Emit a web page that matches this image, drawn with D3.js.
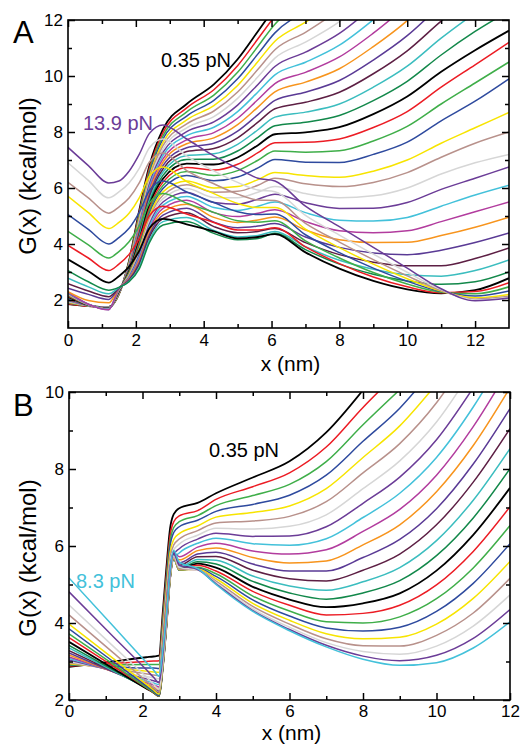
<!DOCTYPE html>
<html><head><meta charset="utf-8">
<script src="https://cdn.jsdelivr.net/npm/d3@7"></script>
<style>
body{margin:0;background:#fff}
svg{display:block}
text{font-family:"Liberation Sans",Arial,Helvetica,sans-serif}
</style>
</head><body>
<svg id="chart" width="521" height="746"></svg>
<script>
// Grace-style colour cycle (set 0 = lowest force)
const lineColors = ["#000000","#ec1c24","#3fae49","#2e4a9e","#f7e400","#b8918b","#d6d6d6","#6b3c97",
                    "#43c1da","#b23c9e","#f7941d","#5a3a95","#5d1f44","#3bbdbf","#12884a"];

// ---------- Panel A ----------
const forceLabelsA = ["0.35 pN", "13.9 pN"];
const xTicksA = [0, 2, 4, 6, 8, 10, 12];
const yTicksA = [2, 4, 6, 8, 10, 12];
const xGridA = [0, 0.6, 1.2, 1.5, 1.8, 2.1, 2.4, 2.8, 3.5, 4.3, 5.0, 5.6, 6.1, 7, 8, 9, 10, 11, 12, 13];
const curvesA = [
 [1.85,1.78,1.75,2.2,3.4,5.2,6.8,8.1,9.0,9.7,10.6,11.6,12.45],
 [1.87,1.78,1.75,2.21,3.37,5.13,6.71,7.98,8.86,9.51,10.37,11.33,12.15],
 [1.89,1.79,1.74,2.22,3.35,5.06,6.61,7.86,8.72,9.32,10.13,11.06,11.85,12.64],
 [1.9,1.79,1.74,2.23,3.32,4.98,6.52,7.75,8.57,9.13,9.9,10.79,11.54,12.28],
 [1.92,1.79,1.73,2.23,3.3,4.91,6.42,7.63,8.43,8.94,9.66,10.52,11.24,11.92,12.77],
 [1.94,1.8,1.73,2.24,3.27,4.84,6.33,7.51,8.29,8.75,9.43,10.24,10.94,11.56,12.36],
 [1.96,1.8,1.73,2.25,3.24,4.77,6.23,7.39,8.15,8.55,9.2,9.97,10.64,11.21,11.94,12.97],
 [1.98,1.8,1.72,2.26,3.22,4.7,6.14,7.27,8.01,8.36,8.96,9.7,10.34,10.85,11.52,12.49],
 [1.99,1.8,1.72,2.27,3.19,4.62,6.04,7.16,7.87,8.17,8.73,9.43,10.04,10.49,11.1,12.01,13.06],
 [2.01,1.81,1.71,2.28,3.17,4.55,5.95,7.04,7.72,7.98,8.49,9.16,9.73,10.13,10.68,11.53,12.52],
 [2.03,1.81,1.71,2.29,3.14,4.48,5.85,6.92,7.58,7.79,8.26,8.89,9.43,9.78,10.26,11.05,11.98,13.16],
 [2.05,1.81,1.71,2.29,3.11,4.41,5.76,6.8,7.44,7.6,8.03,8.62,9.13,9.42,9.84,10.57,11.44,12.56],
 [2.07,1.82,1.7,2.3,3.09,4.34,5.66,6.68,7.3,7.41,7.79,8.35,8.83,9.06,9.42,10.08,10.9,11.96,12.92],
 [2.08,1.82,1.7,2.31,3.06,4.26,5.57,6.57,7.16,7.22,7.56,8.08,8.53,8.71,9.0,9.6,10.35,11.35,12.25],
 [2.1,1.82,1.69,2.32,3.04,4.19,5.47,6.45,7.02,7.03,7.32,7.81,8.22,8.35,8.59,9.12,9.81,10.75,11.59,12.32],
 [2.12,1.83,1.69,2.33,3.01,4.12,5.38,6.33,6.87,6.84,7.09,7.53,7.92,7.99,8.17,8.64,9.27,10.15,10.92,11.62],
 [2.14,1.83,1.69,2.34,2.98,4.05,5.28,6.21,6.73,6.64,6.85,7.26,7.62,7.63,7.75,8.16,8.73,9.6,10.4,11.2],
 [2.16,1.83,1.68,2.35,2.96,3.98,5.19,6.09,6.59,6.45,6.62,6.99,7.32,7.28,7.33,7.68,8.2,9.0,9.75,10.5],
 [2.17,1.83,1.68,2.35,2.93,3.9,5.09,5.98,6.45,6.26,6.39,6.72,7.02,6.92,6.91,7.2,7.64,8.4,9.1,9.9],
 [2.19,1.84,1.67,2.36,2.91,3.83,5.0,5.86,6.25,6.0,6.05,6.3,6.55,6.45,6.38,6.6,7.0,7.6,8.15,8.7],
 [2.21,1.84,1.67,2.37,2.88,3.76,4.9,5.74,6.12,5.85,5.88,6.1,6.35,6.15,6.05,6.2,6.55,7.1,7.6,8.0],
 [2.23,1.84,1.67,2.38,2.85,3.69,4.81,5.62,5.98,5.66,5.65,5.85,6.05,5.8,5.65,5.72,6.0,6.5,6.9,7.2],
 [2.25,1.85,1.66,2.39,2.83,3.62,4.71,5.5,5.84,5.48,5.42,5.6,5.78,5.47,5.27,5.28,5.48,5.95,6.35,6.75],
 [2.26,1.85,1.66,2.4,2.8,3.54,4.62,5.39,5.7,5.3,5.2,5.35,5.5,5.12,4.85,4.82,4.95,5.35,5.75,6.1],
 [2.28,1.85,1.65,2.41,2.78,3.47,4.52,5.27,5.56,5.12,4.98,5.1,5.22,4.8,4.47,4.4,4.47,4.8,5.15,5.5],
 [2.3,1.98,1.9,2.42,2.75,3.4,4.43,5.15,5.42,4.95,4.77,4.86,4.96,4.5,4.15,4.05,4.06,4.3,4.6,4.96],
 [2.42,2.2,2.02,2.42,2.72,3.33,4.33,5.03,5.28,4.78,4.58,4.64,4.73,4.25,3.88,3.68,3.62,3.78,4.05,4.39],
 [2.58,2.32,2.12,2.43,2.7,3.26,4.24,4.91,5.12,4.62,4.4,4.45,4.55,4.05,3.62,3.35,3.22,3.22,3.48,3.86],
 [2.78,2.47,2.22,2.44,2.67,3.18,4.14,4.8,4.95,4.48,4.25,4.3,4.45,3.9,3.42,3.1,2.9,2.85,3.05,3.43],
 [3.05,2.65,2.35,2.45,2.65,3.11,4.05,4.68,4.8,4.38,4.15,4.2,4.38,3.8,3.28,2.92,2.68,2.56,2.65,3.0],
 [3.45,3.03,2.62,2.85,3.19,3.76,4.56,4.9,4.7,4.45,4.2,4.25,4.35,3.7,3.12,2.68,2.38,2.24,2.35,2.78],
 [3.95,3.5,3.05,3.28,3.63,4.2,5.01,5.35,5.07,4.77,4.5,4.5,4.58,3.9,3.3,2.82,2.47,2.26,2.3,2.62],
 [4.45,3.97,3.5,3.73,4.08,4.65,5.46,5.8,5.46,5.13,4.83,4.78,4.83,4.11,3.5,2.98,2.57,2.28,2.22,2.47],
 [5.05,4.52,4.0,4.23,4.56,5.13,5.91,6.25,5.86,5.48,5.15,5.05,5.07,4.33,3.69,3.14,2.67,2.3,2.14,2.32],
 [5.7,5.12,4.55,4.77,5.1,5.65,6.42,6.75,6.23,5.8,5.45,5.3,5.3,4.53,3.87,3.28,2.76,2.32,2.08,2.2],
 [6.2,5.65,5.1,5.32,5.64,6.18,6.93,7.25,6.62,6.15,5.78,5.57,5.55,4.74,4.07,3.44,2.86,2.34,2.03,2.13],
 [6.9,6.27,5.65,5.86,6.18,6.7,7.44,7.75,7.14,6.61,6.2,5.93,5.87,5.02,4.32,3.64,2.99,2.37,2.0,2.09],
 [7.45,6.8,6.18,6.25,6.6,7.2,7.95,8.25,7.75,7.15,6.7,6.35,6.25,5.35,4.62,3.88,3.14,2.4,1.97,2.07]
];

// ---------- Panel B ----------
const forceLabelsB = ["0.35 pN", "8.3 pN"];
const xTicksB = [0, 2, 4, 6, 8, 10, 12];
const yTicksB = [2, 4, 6, 8, 10];
const xGridB = [0, 1.2, 2.1, 2.3, 2.45, 2.55, 2.65, 2.75, 2.85, 3.0, 3.5, 4, 5, 6, 7, 8, 9, 10, 11, 12];
const curvesB = [
 [2.86,3.0,3.11,3.13,3.15,4.25,5.43,6.46,6.83,6.98,7.12,7.37,7.78,8.2,8.95,10.05],
 [2.88,2.95,3.0,3.01,3.02,4.1,5.26,6.27,6.63,6.78,6.92,7.21,7.54,7.9,8.57,9.6,10.55],
 [2.9,2.91,2.92,2.92,2.92,3.99,5.13,6.12,6.48,6.63,6.79,7.05,7.31,7.6,8.19,9.15,10.06],
 [2.92,2.87,2.83,2.83,2.82,3.88,5.01,6.0,6.35,6.5,6.67,6.9,7.08,7.32,7.84,8.72,9.58,10.7],
 [2.94,2.83,2.75,2.73,2.72,3.76,4.86,5.83,6.17,6.32,6.52,6.75,6.87,7.04,7.49,8.3,9.12,10.21],
 [2.97,2.8,2.68,2.65,2.63,3.65,4.74,5.69,6.03,6.18,6.4,6.6,6.65,6.77,7.15,7.9,8.66,9.72,11.14],
 [3.0,2.78,2.61,2.58,2.55,3.56,4.63,5.57,5.9,6.05,6.28,6.46,6.44,6.51,6.81,7.49,8.21,9.22,10.62],
 [3.04,2.76,2.55,2.5,2.47,3.46,4.52,5.45,5.78,5.93,6.18,6.33,6.25,6.26,6.5,7.11,7.79,8.76,10.11],
 [3.08,2.75,2.5,2.44,2.4,3.38,4.43,5.34,5.67,5.82,6.07,6.2,6.06,6.02,6.19,6.74,7.37,8.3,9.61,11.2],
 [3.12,2.74,2.45,2.39,2.34,3.38,4.5,5.47,5.82,5.72,5.97,6.07,5.87,5.79,5.9,6.38,6.95,7.84,9.1,10.65],
 [3.17,2.73,2.41,2.33,2.28,3.32,4.43,5.39,5.74,5.64,5.88,5.95,5.7,5.56,5.61,6.03,6.55,7.41,8.61,10.11],
 [3.22,2.73,2.37,2.29,2.23,2.96,4.05,5.32,5.86,5.56,5.79,5.84,5.53,5.35,5.35,5.7,6.17,6.97,8.13,9.57],
 [3.28,2.75,2.35,2.26,2.19,2.91,4.0,5.26,5.8,5.5,5.72,5.73,5.37,5.15,5.09,5.37,5.79,6.55,7.66,9.05],
 [3.35,2.76,2.32,2.22,2.15,2.87,3.95,5.21,5.75,5.45,5.65,5.63,5.22,4.96,4.85,5.07,5.44,6.14,7.19,8.53],
 [3.42,2.78,2.31,2.2,2.12,2.84,3.92,5.18,5.72,5.42,5.59,5.53,5.08,4.78,4.62,4.78,5.1,5.75,6.73,8.01],
 [3.51,2.82,2.3,2.19,2.1,2.82,3.9,5.16,5.7,5.4,5.54,5.44,4.94,4.61,4.41,4.51,4.77,5.36,6.29,7.51],
 [3.62,2.88,2.32,2.19,2.1,2.82,3.89,5.14,5.68,5.38,5.5,5.35,4.82,4.46,4.21,4.25,4.46,4.99,5.86,7.02],
 [3.72,2.93,2.33,2.2,2.1,2.81,3.89,5.13,5.67,5.37,5.45,5.28,4.7,4.31,4.03,4.0,4.16,4.63,5.43,6.53],
 [3.85,3.0,2.37,2.23,2.12,2.83,3.9,5.14,5.67,5.37,5.42,5.21,4.6,4.18,3.87,3.79,3.89,4.3,5.03,6.06],
 [3.97,3.08,2.41,2.26,2.15,2.86,3.92,5.15,5.68,5.38,5.4,5.15,4.51,4.07,3.72,3.59,3.63,3.97,4.64,5.6],
 [4.21,3.23,2.49,2.32,2.2,2.9,3.95,5.18,5.7,5.4,5.38,5.09,4.43,3.97,3.59,3.41,3.4,3.68,4.26,5.16],
 [4.47,3.4,2.6,2.41,2.28,2.97,4.01,5.22,5.74,5.44,5.38,5.05,4.37,3.89,3.49,3.26,3.19,3.4,3.92,4.73],
 [4.81,3.65,2.79,2.59,2.45,3.12,4.13,5.3,5.8,5.5,5.39,5.02,4.32,3.83,3.42,3.14,3.02,3.16,3.6,4.35],
 [5.17,3.92,2.98,2.78,2.62,3.27,4.25,5.39,5.88,5.58,5.41,5.0,4.3,3.8,3.38,3.06,2.9,2.97,3.35,4.03]
];

const svg = d3.select("#chart");

function drawPanel(p) {
  const x = d3.scaleLinear().domain(p.xDomain).range([p.left, p.right]);
  const y = d3.scaleLinear().domain(p.yDomain).range([p.bottom, p.top]);
  const g = svg.append("g");

  const clipId = "clip" + p.id;
  svg.append("defs").append("clipPath").attr("id", clipId)
    .append("rect").attr("x", p.left).attr("y", p.top)
    .attr("width", p.right - p.left).attr("height", p.bottom - p.top);

  const line = d3.line()
    .x((d, i) => x(p.xGrid[i]))
    .y(d => y(d))
    .curve(d3.curveMonotoneX);

  const lines = g.append("g").attr("clip-path", `url(#${clipId})`);
  p.curves.forEach((c, i) => {
    lines.append("path")
      .attr("d", line(c))
      .attr("fill", "none")
      .attr("stroke", lineColors[i % lineColors.length])
      .attr("stroke-width", (i % 15 === 0) ? 1.8 : 1.5)
      .attr("stroke-linejoin", "round");
  });

  const xMinor = d3.range(p.xDomain[0], p.xDomain[1] + 0.001, 1).filter(v => !p.xTicks.includes(v) && v < p.xDomain[1]);
  const yMinor = d3.range(Math.ceil(p.yDomain[0]), p.yDomain[1] + 0.001, 1).filter(v => !p.yTicks.includes(v) && v > p.yDomain[0] && v < p.yDomain[1]);

  function styleAxis(sel) {
    sel.select(".domain").remove();
    sel.selectAll("line").attr("stroke", "#000").attr("stroke-width", 1.5);
    sel.selectAll("text").attr("font-size", 17).attr("fill", "#000")
      .attr("font-family", '"Liberation Sans", Arial, sans-serif');
  }
  // bottom
  g.append("g").attr("transform", `translate(0,${p.bottom})`)
    .call(d3.axisBottom(x).tickValues(p.xTicks).tickSize(-7).tickPadding(p.xPad).tickFormat(d3.format("d")))
    .call(styleAxis);
  g.append("g").attr("transform", `translate(0,${p.bottom})`)
    .call(d3.axisBottom(x).tickValues(xMinor).tickSize(-4).tickFormat(""))
    .call(styleAxis);
  // top
  g.append("g").attr("transform", `translate(0,${p.top})`)
    .call(d3.axisTop(x).tickValues(p.xTicks).tickSize(-7).tickFormat(""))
    .call(styleAxis);
  g.append("g").attr("transform", `translate(0,${p.top})`)
    .call(d3.axisTop(x).tickValues(xMinor).tickSize(-4).tickFormat(""))
    .call(styleAxis);
  // left
  g.append("g").attr("transform", `translate(${p.left},0)`)
    .call(d3.axisLeft(y).tickValues(p.yTicks).tickSize(-7).tickPadding(5).tickFormat(d3.format("d")))
    .call(styleAxis);
  g.append("g").attr("transform", `translate(${p.left},0)`)
    .call(d3.axisLeft(y).tickValues(yMinor).tickSize(-4).tickFormat(""))
    .call(styleAxis);
  // right
  g.append("g").attr("transform", `translate(${p.right},0)`)
    .call(d3.axisRight(y).tickValues(p.yTicks).tickSize(-7).tickFormat(""))
    .call(styleAxis);
  g.append("g").attr("transform", `translate(${p.right},0)`)
    .call(d3.axisRight(y).tickValues(yMinor).tickSize(-4).tickFormat(""))
    .call(styleAxis);

  // frame
  g.append("rect").attr("x", p.left).attr("y", p.top)
    .attr("width", p.right - p.left).attr("height", p.bottom - p.top)
    .attr("fill", "none").attr("stroke", "#000").attr("stroke-width", 1.6);

  // titles
  g.append("text").attr("x", p.left + (p.right - p.left) / 2 + 2).attr("y", p.xTitleY)
    .attr("text-anchor", "middle").attr("font-size", 21).text("x (nm)");
  g.append("text").attr("transform", `translate(36,${p.yTitleY}) rotate(-90)`)
    .attr("text-anchor", "middle").attr("font-size", 24).text("G(x) (kcal/mol)");
  g.append("text").attr("x", 13).attr("y", p.letterY)
    .attr("font-size", 31).text(p.letter);

  // force labels
  p.labels.forEach(l => {
    g.append("text").attr("x", l.x).attr("y", l.y).attr("font-size", 20)
      .attr("fill", l.color).text(l.text);
  });
}

drawPanel({
  id: "A", letter: "A", letterY: 43,
  left: 68, right: 509, top: 20, bottom: 328,
  xDomain: [0, 13], yDomain: [1, 12],
  xTicks: xTicksA, yTicks: yTicksA, xPad: 6,
  xGrid: xGridA, curves: curvesA,
  xTitleY: 371, yTitleY: 176,
  labels: [
    {text: forceLabelsA[0], x: 161, y: 67, color: "#000"},
    {text: forceLabelsA[1], x: 83, y: 130, color: lineColors[7]}
  ]
});

drawPanel({
  id: "B", letter: "B", letterY: 416,
  left: 69, right: 510, top: 392, bottom: 700,
  xDomain: [0, 12], yDomain: [2, 10],
  xTicks: xTicksB, yTicks: yTicksB, xPad: 5,
  xGrid: xGridB, curves: curvesB,
  xTitleY: 740, yTitleY: 558,
  labels: [
    {text: forceLabelsB[0], x: 209, y: 457, color: "#000"},
    {text: forceLabelsB[1], x: 76, y: 588, color: lineColors[8]}
  ]
});
</script>
</body></html>
